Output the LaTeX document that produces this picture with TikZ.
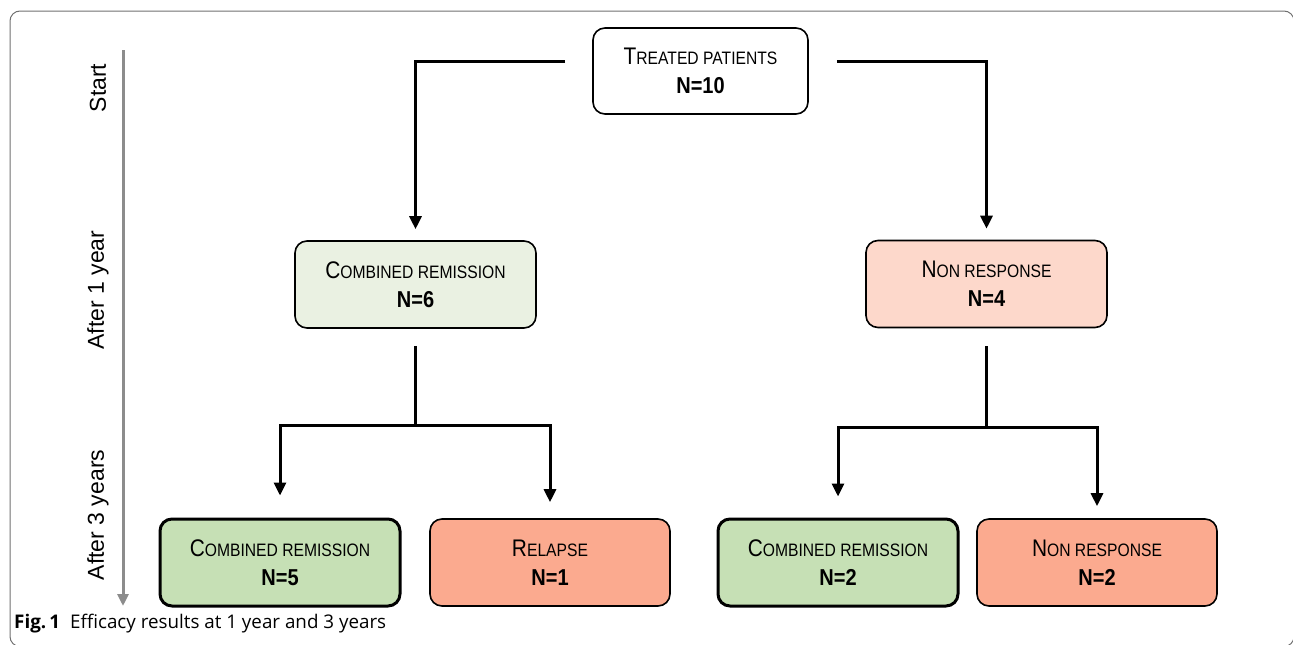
\documentclass[tikz,border=0pt]{standalone}
\usepackage{fontspec}
\setmainfont{Liberation Sans}
\newfontfamily\boxfont[FakeStretch=0.87]{Liberation Sans}
\newfontfamily\capfont{Open Sans}
\usetikzlibrary{arrows.meta,calc}
\definecolor{framegray}{HTML}{707070}
\definecolor{axisgray}{HTML}{8C8C8C}
\definecolor{lightgreen}{HTML}{EAF1E2}
\definecolor{lightsalmon}{HTML}{FDD8CB}
\definecolor{midgreen}{HTML}{C6E0B5}
\definecolor{midsalmon}{HTML}{FBAA8F}
\newcommand\fsc[2]{{\fontsize{24}{29}\selectfont #1}{\fontsize{18}{29}\selectfont #2}}
\newcommand\nval[1]{{\fontsize{23}{29}\selectfont\bfseries #1}}
\tikzset{
  box/.style={draw, rounded corners=12pt, minimum width=240pt, minimum height=87pt,
    align=center, font=\boxfont\fontsize{24}{29}\selectfont, line width=1.6pt, inner sep=0pt},
  thickbox/.style={box, line width=3pt},
  conn/.style={line width=3pt, line join=miter},
  arr/.style={conn, -{Triangle[width=12pt,length=13pt]}},
  axislabel/.style={rotate=90, font=\fontsize{23}{23}\selectfont, inner sep=0pt},
}
\begin{document}
\begin{tikzpicture}[x=1pt,y=-1pt]
\useasboundingbox (0,0) rectangle (1293,645);
\begin{scope}
\clip (0,0) rectangle (1293,645);
\draw[framegray, line width=1pt, rounded corners=10pt] (10,11) rectangle (1294,646.5);
\end{scope}

% time axis
\coordinate (axtop) at (123,50);
\coordinate (axbot) at (123,606);
\draw[axisgray, line width=3pt, -{Triangle[width=11pt,length=12pt]}] (axtop) -- (axbot);
\node[axislabel] (lstart) at (98,88) {Start};
\node[axislabel] (l1) at (98,290) {After 1 year};
\node[axislabel] (l3) at (98,515) {After 3 years};

% boxes
\node[box, minimum width=215pt, minimum height=86pt, fill=white] (top) at (700.5,71) {\fsc{T}{REATED PATIENTS}\\\nval{N=10}};
\node[box, fill=lightgreen, minimum width=241pt] (cr1) at (415.5,284.5) {\fsc{C}{OMBINED REMISSION}\\\nval{N=6}};
\node[box, fill=lightsalmon, minimum width=241pt] (nr1) at (986.5,284) {\fsc{N}{ON RESPONSE}\\\nval{N=4}};
\node[thickbox, fill=midgreen] (b1) at (280,562.5) {\fsc{C}{OMBINED REMISSION}\\\nval{N=5}};
\node[box, fill=midsalmon] (b2) at (550,562.5) {\fsc{R}{ELAPSE}\\\nval{N=1}};
\node[thickbox, fill=midgreen] (b3) at (838,562.5) {\fsc{C}{OMBINED REMISSION}\\\nval{N=2}};
\node[box, fill=midsalmon] (b4) at (1097,562.5) {\fsc{N}{ON RESPONSE}\\\nval{N=2}};

% connectors
\draw[arr] ($(top.west)+(-27,-10)$) -| ([yshift=11pt]cr1.north);
\draw[arr] ($(top.east)+(28,-10)$) -| ([yshift=11pt]nr1.north);

\coordinate (j1) at ($(cr1.south)+(0,97)$);
\coordinate (j2) at ($(nr1.south)+(0,99)$);
\draw[conn] ($(cr1.south)+(0,17)$) -- (j1);
\draw[conn] ($(nr1.south)+(0,18)$) -- (j2);
\draw[arr] (j1) -| ([yshift=22pt]b1.north);
\draw[arr] (j1) -| ([yshift=16pt]b2.north);
\draw[arr] (j2) -| ([yshift=21pt]b3.north);
\draw[arr] (j2) -| ([yshift=12pt]b4.north);

% caption
\node[anchor=base west, inner sep=0pt, font=\capfont\fontsize{18.8}{22}\selectfont] (cap) at (14,628)
  {\textbf{Fig.\,1}\hspace{10pt}Efficacy results at 1 year and 3 years};
\end{tikzpicture}
\end{document}
